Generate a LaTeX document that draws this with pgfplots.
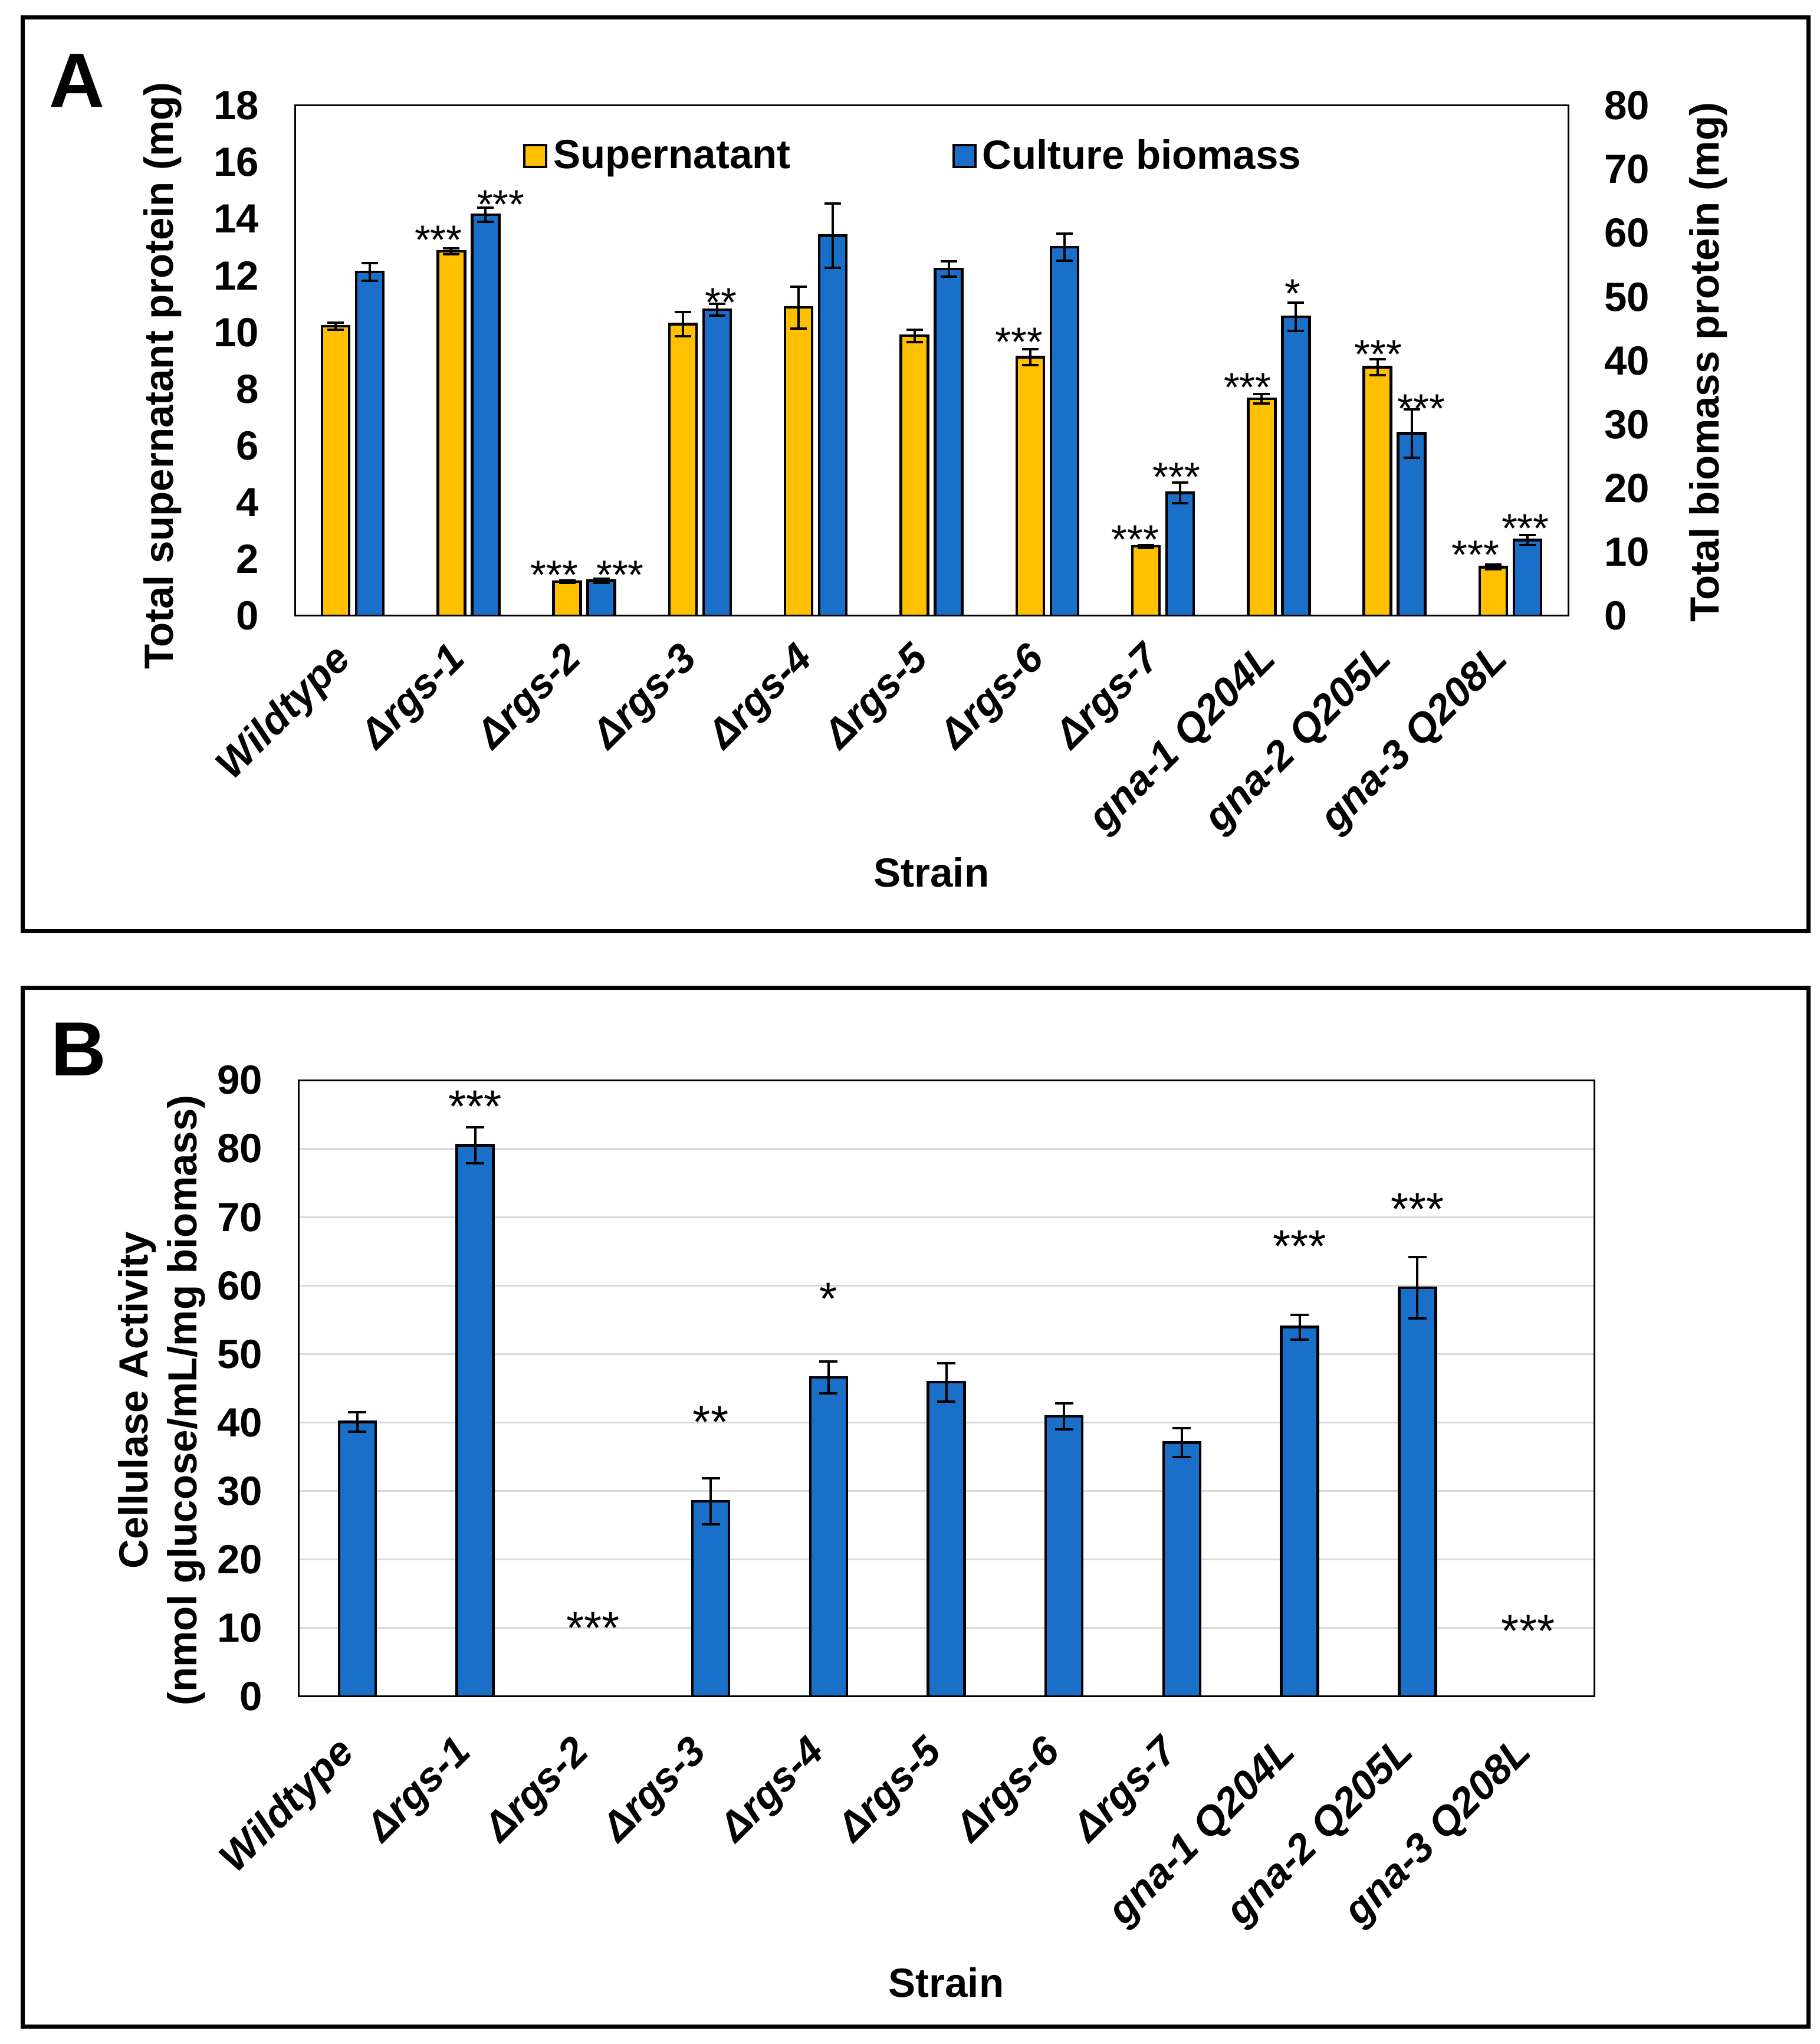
\documentclass[border=0pt]{standalone}
\usepackage{fontspec}
\setmainfont{Liberation Sans}
\usepackage{pgfplots}
\pgfplotsset{compat=1.18}
\definecolor{gold}{HTML}{FFC000}
\definecolor{xblue}{HTML}{1A70C8}
\definecolor{gridgray}{HTML}{D9D9D9}
\newcommand\fs{\fontsize{13.8bp}{16.6bp}\selectfont}
\newcommand\fsb{\fontsize{15.5bp}{18bp}\selectfont}

\pgfplotsset{
  common/.style={
    scale only axis, enlargelimits=false,
    xmin=-0.5, xmax=10.5, ymin=0,
    axis line style={line width=0.6bp},
    major tick length=0pt,
    tick label style={font=\fs\bfseries},
    /pgf/number format/assume math mode=true,
    label style={font=\fs\bfseries},
    xtick={0,...,10},
    xticklabels={Wildtype,Δrgs-1,Δrgs-2,Δrgs-3,Δrgs-4,Δrgs-5,Δrgs-6,Δrgs-7,gna-1 Q204L,gna-2 Q205L,gna-3 Q208L},
    yticklabel style={inner sep=0pt},
  },
  xlab/.style n args={2}{xticklabel style={font=\fs\bfseries\itshape, xshift=#1, yshift=#2, rotate=45, anchor=north east, inner sep=0pt}},
  errs/.style={error bars/y dir=both, error bars/y explicit,
    error bars/error bar style={line width=0.8bp, black},
    error bars/error mark options={rotate=90, mark size=#1, line width=0.8bp, black}},
  errs/.default=2.8bp,
  sq/.style={legend image code/.code={\draw[##1,line width=0.8bp] (0bp,-3.7bp) rectangle (7.4bp,3.7bp);}},
}

\begin{document}
\begin{tikzpicture}
% panel frames
\draw[line width=1.4bp] (7.6bp,687bp) rectangle (613.2bp,377.2bp);
\draw[line width=1.4bp] (7.6bp,358bp) rectangle (613.2bp,5.8bp);
\node[font=\fontsize{26bp}{30bp}\selectfont\bfseries] at (26bp,665.6bp) {A};
\node[font=\fontsize{26bp}{30bp}\selectfont\bfseries] at (26.6bp,337.2bp) {B};

% ---------------- Panel A, left axis ----------------
\begin{axis}[common,
  at={(100bp,484.2bp)}, anchor=south west, width=431.8bp, height=173bp,
  ymax=18, ytick={0,2,...,18},
  ybar, bar width=9.2bp,
  yticklabel style={xshift=-12bp},
  xlab={-7.2bp}{-8.2bp},
  xlabel={Strain}, xlabel style={at={(axis description cs:0.5,-0.503)}, anchor=center},
  ylabel={Total supernatant protein (mg)},
  ylabel style={at={(axis description cs:-0.1037,0.4705)}, anchor=center},
  legend style={at={(axis description cs:0.1788,0.9006)}, anchor=west, draw=none, fill=none,
    inner sep=0pt, font=\fs\bfseries, legend columns=2,
    /tikz/every even column/.append style={column sep=52.8bp}},
  legend cell align=left,
]
\addplot[fill=gold, draw=black, line width=0.9bp, bar shift=-5.8bp, sq, errs] coordinates {
  (0,10.22) +- (0,0.12)
  (1,12.86) +- (0,0.10)
  (2,1.21) +- (0,0.04)
  (3,10.29) +- (0,0.43)
  (4,10.88) +- (0,0.74)
  (5,9.88) +- (0,0.22)
  (6,9.12) +- (0,0.28)
  (7,2.45) +- (0,0.05)
  (8,7.66) +- (0,0.17)
  (9,8.77) +- (0,0.29)
  (10,1.72) +- (0,0.08)
};
\addlegendentry{Supernatant}
\addlegendimage{fill=xblue, draw=black, sq}
\addlegendentry{Culture biomass}
% significance stars (left-axis units)
\node[font=\fs, yshift=-3bp] at (axis cs:0.74,13.58) {***};
\node[font=\fs, yshift=-3bp] at (axis cs:1.28,14.82) {***};
\node[font=\fs, yshift=-3bp] at (axis cs:1.74,1.75) {***};
\node[font=\fs, yshift=-3bp] at (axis cs:2.31,1.75) {***};
\node[font=\fs, yshift=-3bp] at (axis cs:3.18,11.36) {**};
\node[font=\fs, yshift=-3bp] at (axis cs:5.755,9.97) {***};
\node[font=\fs, yshift=-3bp] at (axis cs:6.76,3.01) {***};
\node[font=\fs, yshift=-3bp] at (axis cs:7.115,5.20) {***};
\node[font=\fs, yshift=-3bp] at (axis cs:7.73,8.36) {***};
\node[font=\fs, yshift=-3bp] at (axis cs:8.12,11.68) {*};
\node[font=\fs, yshift=-3bp] at (axis cs:8.86,9.53) {***};
\node[font=\fs, yshift=-3bp] at (axis cs:9.23,7.62) {***};
\node[font=\fs, yshift=-3bp] at (axis cs:9.70,2.45) {***};
\node[font=\fs, yshift=-3bp] at (axis cs:10.13,3.39) {***};
\end{axis}

% ---------------- Panel A, right axis ----------------
\begin{axis}[common,
  at={(100bp,484.2bp)}, anchor=south west, width=431.8bp, height=173bp,
  ymax=80, ytick={0,10,...,80},
  axis y line*=right, axis x line=none,
  ybar, bar width=9.2bp,
  yticklabel style={xshift=12bp},
  ylabel={Total biomass protein (mg)},
  ylabel style={at={(axis description cs:1.110,0.497)}, anchor=center},
]
\addplot[fill=xblue, draw=black, line width=0.9bp, bar shift=5.8bp, errs] coordinates {
  (0,53.9) +- (0,1.4)
  (1,62.9) +- (0,1.1)
  (2,5.5) +- (0,0.3)
  (3,48.0) +- (0,0.9)
  (4,59.6) +- (0,5.0)
  (5,54.4) +- (0,1.2)
  (6,57.8) +- (0,2.1)
  (7,19.3) +- (0,1.6)
  (8,46.9) +- (0,2.2)
  (9,28.6) +- (0,3.8)
  (10,11.9) +- (0,0.8)
};
\end{axis}

% ---------------- Panel B ----------------
\begin{axis}[common,
  at={(101.2bp,117.8bp)}, anchor=south west, width=439.4bp, height=209bp,
  ymax=90, ytick={0,10,...,90},
  ybar, bar width=12.4bp,
  ymajorgrids, grid style={gridgray, line width=0.6bp},
  yticklabel style={xshift=-12bp},
  xlab={-7.6bp}{-12.4bp},
  xlabel={Strain}, xlabel style={at={(axis description cs:0.5,-0.464)}, anchor=center},
  ylabel={Cellulase Activity\\(nmol glucose/mL/mg biomass)},
  ylabel style={at={(axis description cs:-0.1054,0.4804)}, anchor=center, align=center},
]
\addplot[fill=xblue, draw=black, line width=0.9bp, bar shift=0pt, errs=3.1bp] coordinates {
  (0,40.1) +- (0,1.4)
  (1,80.5) +- (0,2.6)
  (3,28.5) +- (0,3.35)
  (4,46.6) +- (0,2.35)
  (5,45.9) +- (0,2.8)
  (6,40.9) +- (0,1.9)
  (7,37.1) +- (0,2.1)
  (8,53.95) +- (0,1.8)
  (9,59.7) +- (0,4.45)
};
\node[font=\fsb, yshift=-3.4bp] at (axis cs:1,87.6) {***};
\node[font=\fsb, yshift=-3.4bp] at (axis cs:2,11.5) {***};
\node[font=\fsb, yshift=-3.4bp] at (axis cs:3,41.5) {**};
\node[font=\fsb, yshift=-3.4bp] at (axis cs:4,59.5) {*};
\node[font=\fsb, yshift=-3.4bp] at (axis cs:8,67.2) {***};
\node[font=\fsb, yshift=-3.4bp] at (axis cs:9,72.6) {***};
\node[font=\fsb, yshift=-3.4bp] at (axis cs:9.94,11.0) {***};
\end{axis}

\pgfresetboundingbox
\useasboundingbox (0bp,0bp) rectangle (617.2bp,693bp);
\end{tikzpicture}
\end{document}
